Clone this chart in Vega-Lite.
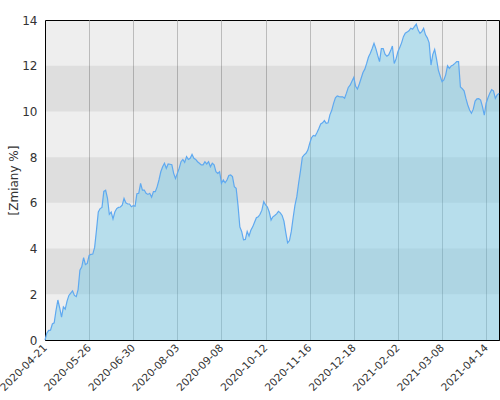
{
  "$schema": "https://vega.github.io/schema/vega-lite/v6.json",
  "width": 454,
  "height": 320,
  "autosize": {"type": "none"},
  "padding": {"left": 45, "top": 20, "right": 1, "bottom": 60},
  "config": {
    "font": "DejaVu Sans",
    "view": {"fill": "#EEEEEE", "stroke": "#000000", "strokeWidth": 1}
  },
  "datasets": {
    "bands": [
      {"lo": 2, "hi": 4},
      {"lo": 6, "hi": 8},
      {"lo": 10, "hi": 12}
    ],
    "fund": [
      {"date": "2020-04-21", "value": 0.0},
      {"date": "2020-04-22", "value": 0.3},
      {"date": "2020-04-23", "value": 0.42},
      {"date": "2020-04-24", "value": 0.43},
      {"date": "2020-04-27", "value": 0.7},
      {"date": "2020-04-28", "value": 0.75},
      {"date": "2020-04-29", "value": 1.3},
      {"date": "2020-04-30", "value": 1.75},
      {"date": "2020-05-04", "value": 1.4},
      {"date": "2020-05-05", "value": 1.0},
      {"date": "2020-05-06", "value": 1.45},
      {"date": "2020-05-07", "value": 1.35},
      {"date": "2020-05-08", "value": 1.7},
      {"date": "2020-05-11", "value": 1.95},
      {"date": "2020-05-12", "value": 2.05},
      {"date": "2020-05-13", "value": 2.15},
      {"date": "2020-05-14", "value": 1.95},
      {"date": "2020-05-15", "value": 1.9},
      {"date": "2020-05-18", "value": 2.2},
      {"date": "2020-05-19", "value": 3.05},
      {"date": "2020-05-20", "value": 3.2},
      {"date": "2020-05-21", "value": 3.6},
      {"date": "2020-05-22", "value": 3.3},
      {"date": "2020-05-25", "value": 3.35},
      {"date": "2020-05-26", "value": 3.7},
      {"date": "2020-05-27", "value": 3.75},
      {"date": "2020-05-28", "value": 3.76},
      {"date": "2020-05-29", "value": 4.05},
      {"date": "2020-06-01", "value": 4.8},
      {"date": "2020-06-02", "value": 5.6},
      {"date": "2020-06-03", "value": 5.75},
      {"date": "2020-06-04", "value": 5.8},
      {"date": "2020-06-05", "value": 6.5},
      {"date": "2020-06-08", "value": 6.55},
      {"date": "2020-06-09", "value": 6.2},
      {"date": "2020-06-10", "value": 5.5},
      {"date": "2020-06-12", "value": 5.6},
      {"date": "2020-06-15", "value": 5.3},
      {"date": "2020-06-16", "value": 5.6},
      {"date": "2020-06-17", "value": 5.75},
      {"date": "2020-06-18", "value": 5.8},
      {"date": "2020-06-19", "value": 5.82},
      {"date": "2020-06-22", "value": 5.9},
      {"date": "2020-06-23", "value": 6.2},
      {"date": "2020-06-24", "value": 6.0},
      {"date": "2020-06-25", "value": 5.95},
      {"date": "2020-06-26", "value": 5.95},
      {"date": "2020-06-29", "value": 5.83},
      {"date": "2020-06-30", "value": 5.88},
      {"date": "2020-07-01", "value": 5.85},
      {"date": "2020-07-02", "value": 6.4},
      {"date": "2020-07-03", "value": 6.42},
      {"date": "2020-07-06", "value": 6.85},
      {"date": "2020-07-07", "value": 6.56},
      {"date": "2020-07-08", "value": 6.56},
      {"date": "2020-07-09", "value": 6.42},
      {"date": "2020-07-10", "value": 6.37},
      {"date": "2020-07-13", "value": 6.42},
      {"date": "2020-07-14", "value": 6.25},
      {"date": "2020-07-15", "value": 6.49},
      {"date": "2020-07-16", "value": 6.49},
      {"date": "2020-07-17", "value": 6.7},
      {"date": "2020-07-20", "value": 7.0},
      {"date": "2020-07-21", "value": 7.36},
      {"date": "2020-07-22", "value": 7.58},
      {"date": "2020-07-23", "value": 7.73},
      {"date": "2020-07-24", "value": 7.51},
      {"date": "2020-07-27", "value": 7.7},
      {"date": "2020-07-28", "value": 7.69},
      {"date": "2020-07-29", "value": 7.67},
      {"date": "2020-07-30", "value": 7.29},
      {"date": "2020-07-31", "value": 7.07},
      {"date": "2020-08-03", "value": 7.29},
      {"date": "2020-08-04", "value": 7.51},
      {"date": "2020-08-05", "value": 7.8},
      {"date": "2020-08-06", "value": 7.9},
      {"date": "2020-08-07", "value": 7.77},
      {"date": "2020-08-10", "value": 8.02},
      {"date": "2020-08-11", "value": 7.9},
      {"date": "2020-08-12", "value": 7.95},
      {"date": "2020-08-13", "value": 8.12},
      {"date": "2020-08-17", "value": 7.95},
      {"date": "2020-08-18", "value": 7.9},
      {"date": "2020-08-19", "value": 7.8},
      {"date": "2020-08-20", "value": 7.73},
      {"date": "2020-08-21", "value": 7.66},
      {"date": "2020-08-24", "value": 7.66},
      {"date": "2020-08-25", "value": 7.8},
      {"date": "2020-08-26", "value": 7.7},
      {"date": "2020-08-27", "value": 7.8},
      {"date": "2020-08-28", "value": 7.58},
      {"date": "2020-08-31", "value": 7.73},
      {"date": "2020-09-02", "value": 7.66},
      {"date": "2020-09-03", "value": 7.36},
      {"date": "2020-09-04", "value": 7.29},
      {"date": "2020-09-07", "value": 7.36},
      {"date": "2020-09-08", "value": 6.85},
      {"date": "2020-09-09", "value": 7.0},
      {"date": "2020-09-10", "value": 6.88},
      {"date": "2020-09-11", "value": 7.0},
      {"date": "2020-09-14", "value": 7.2},
      {"date": "2020-09-15", "value": 7.22},
      {"date": "2020-09-16", "value": 7.15},
      {"date": "2020-09-17", "value": 6.71},
      {"date": "2020-09-18", "value": 6.64},
      {"date": "2020-09-21", "value": 5.9},
      {"date": "2020-09-22", "value": 4.95},
      {"date": "2020-09-23", "value": 4.75},
      {"date": "2020-09-24", "value": 4.38},
      {"date": "2020-09-25", "value": 4.4},
      {"date": "2020-09-28", "value": 4.75},
      {"date": "2020-09-29", "value": 4.55},
      {"date": "2020-09-30", "value": 4.8},
      {"date": "2020-10-01", "value": 4.95},
      {"date": "2020-10-02", "value": 5.15},
      {"date": "2020-10-05", "value": 5.35},
      {"date": "2020-10-06", "value": 5.39},
      {"date": "2020-10-07", "value": 5.5},
      {"date": "2020-10-08", "value": 5.68},
      {"date": "2020-10-09", "value": 6.05},
      {"date": "2020-10-12", "value": 5.91},
      {"date": "2020-10-13", "value": 5.82},
      {"date": "2020-10-14", "value": 5.6},
      {"date": "2020-10-15", "value": 5.25},
      {"date": "2020-10-16", "value": 5.39},
      {"date": "2020-10-19", "value": 5.45},
      {"date": "2020-10-20", "value": 5.52},
      {"date": "2020-10-21", "value": 5.63},
      {"date": "2020-10-22", "value": 5.56},
      {"date": "2020-10-23", "value": 5.45},
      {"date": "2020-10-26", "value": 5.2},
      {"date": "2020-10-27", "value": 4.7},
      {"date": "2020-10-28", "value": 4.25},
      {"date": "2020-10-29", "value": 4.35},
      {"date": "2020-10-30", "value": 4.75},
      {"date": "2020-11-02", "value": 5.35},
      {"date": "2020-11-03", "value": 5.9},
      {"date": "2020-11-04", "value": 6.27},
      {"date": "2020-11-05", "value": 6.87},
      {"date": "2020-11-06", "value": 7.4},
      {"date": "2020-11-09", "value": 8.0},
      {"date": "2020-11-10", "value": 8.1},
      {"date": "2020-11-12", "value": 8.17},
      {"date": "2020-11-13", "value": 8.31},
      {"date": "2020-11-16", "value": 8.6},
      {"date": "2020-11-17", "value": 8.85},
      {"date": "2020-11-18", "value": 8.95},
      {"date": "2020-11-19", "value": 8.92},
      {"date": "2020-11-20", "value": 9.08},
      {"date": "2020-11-23", "value": 9.25},
      {"date": "2020-11-24", "value": 9.45},
      {"date": "2020-11-25", "value": 9.5},
      {"date": "2020-11-26", "value": 9.6},
      {"date": "2020-11-27", "value": 9.48},
      {"date": "2020-11-30", "value": 9.5},
      {"date": "2020-12-01", "value": 9.85},
      {"date": "2020-12-02", "value": 10.05},
      {"date": "2020-12-03", "value": 10.35},
      {"date": "2020-12-04", "value": 10.6},
      {"date": "2020-12-07", "value": 10.68},
      {"date": "2020-12-08", "value": 10.65},
      {"date": "2020-12-09", "value": 10.64},
      {"date": "2020-12-10", "value": 10.64},
      {"date": "2020-12-11", "value": 10.58},
      {"date": "2020-12-14", "value": 10.8},
      {"date": "2020-12-15", "value": 11.05},
      {"date": "2020-12-16", "value": 11.15},
      {"date": "2020-12-17", "value": 11.32},
      {"date": "2020-12-18", "value": 11.49},
      {"date": "2020-12-21", "value": 11.1},
      {"date": "2020-12-22", "value": 10.98},
      {"date": "2020-12-23", "value": 11.2},
      {"date": "2020-12-28", "value": 11.45},
      {"date": "2020-12-29", "value": 11.7},
      {"date": "2021-01-04", "value": 11.85},
      {"date": "2021-01-05", "value": 12.1},
      {"date": "2021-01-07", "value": 12.38},
      {"date": "2021-01-08", "value": 12.55},
      {"date": "2021-01-11", "value": 12.75},
      {"date": "2021-01-12", "value": 12.98},
      {"date": "2021-01-14", "value": 12.75},
      {"date": "2021-01-15", "value": 12.45},
      {"date": "2021-01-18", "value": 12.18},
      {"date": "2021-01-19", "value": 12.75},
      {"date": "2021-01-20", "value": 12.75},
      {"date": "2021-01-21", "value": 12.5},
      {"date": "2021-01-22", "value": 12.42},
      {"date": "2021-01-25", "value": 12.48},
      {"date": "2021-01-26", "value": 12.65},
      {"date": "2021-01-28", "value": 12.86},
      {"date": "2021-01-29", "value": 12.1},
      {"date": "2021-02-01", "value": 12.3},
      {"date": "2021-02-02", "value": 12.61},
      {"date": "2021-02-03", "value": 12.8},
      {"date": "2021-02-04", "value": 13.0},
      {"date": "2021-02-05", "value": 13.27},
      {"date": "2021-02-08", "value": 13.42},
      {"date": "2021-02-09", "value": 13.47},
      {"date": "2021-02-10", "value": 13.53},
      {"date": "2021-02-11", "value": 13.64},
      {"date": "2021-02-12", "value": 13.6},
      {"date": "2021-02-15", "value": 13.71},
      {"date": "2021-02-16", "value": 13.82},
      {"date": "2021-02-17", "value": 13.56},
      {"date": "2021-02-18", "value": 13.42},
      {"date": "2021-02-19", "value": 13.49},
      {"date": "2021-02-22", "value": 13.64},
      {"date": "2021-02-23", "value": 13.35},
      {"date": "2021-02-24", "value": 13.22},
      {"date": "2021-02-25", "value": 13.0},
      {"date": "2021-02-26", "value": 12.03},
      {"date": "2021-03-01", "value": 12.5},
      {"date": "2021-03-02", "value": 12.71},
      {"date": "2021-03-03", "value": 12.3},
      {"date": "2021-03-04", "value": 11.81},
      {"date": "2021-03-05", "value": 11.55},
      {"date": "2021-03-08", "value": 11.3},
      {"date": "2021-03-09", "value": 11.38},
      {"date": "2021-03-10", "value": 11.6},
      {"date": "2021-03-11", "value": 12.0},
      {"date": "2021-03-12", "value": 11.88},
      {"date": "2021-03-15", "value": 11.99},
      {"date": "2021-03-16", "value": 12.03},
      {"date": "2021-03-17", "value": 12.1},
      {"date": "2021-03-18", "value": 12.18},
      {"date": "2021-03-19", "value": 12.18},
      {"date": "2021-03-22", "value": 11.07},
      {"date": "2021-03-23", "value": 11.0},
      {"date": "2021-03-24", "value": 10.9},
      {"date": "2021-03-25", "value": 10.57},
      {"date": "2021-03-26", "value": 10.28},
      {"date": "2021-03-29", "value": 10.06},
      {"date": "2021-03-30", "value": 9.92},
      {"date": "2021-04-01", "value": 10.1},
      {"date": "2021-04-06", "value": 10.45},
      {"date": "2021-04-07", "value": 10.55},
      {"date": "2021-04-08", "value": 10.56},
      {"date": "2021-04-09", "value": 10.5},
      {"date": "2021-04-12", "value": 10.21},
      {"date": "2021-04-13", "value": 9.84},
      {"date": "2021-04-14", "value": 10.36},
      {"date": "2021-04-15", "value": 10.6},
      {"date": "2021-04-16", "value": 10.8},
      {"date": "2021-04-19", "value": 10.95},
      {"date": "2021-04-20", "value": 10.9},
      {"date": "2021-04-21", "value": 10.57},
      {"date": "2021-04-22", "value": 10.72},
      {"date": "2021-04-23", "value": 10.79}
    ]
  },
  "layer": [
    {
      "data": {"name": "bands"},
      "mark": {"type": "rect", "color": "#000000", "opacity": 0.065},
      "encoding": {
        "y": {"field": "lo", "type": "quantitative", "scale": {"domain": [0, 14], "nice": false}},
        "y2": {"field": "hi"}
      }
    },
    {
      "data": {"name": "fund"},
      "mark": {"type": "area", "color": "#6CC8E9", "opacity": 0.42},
      "encoding": {
        "x": {
          "field": "date",
          "type": "ordinal",
          "scale": {"type": "point", "padding": 0},
          "axis": {
            "values": ["2020-04-21", "2020-05-26", "2020-06-30", "2020-08-03", "2020-09-08", "2020-10-12", "2020-11-16", "2020-12-18", "2021-02-02", "2021-03-08", "2021-04-14"],
            "title": null,
            "labelAngle": -45,
            "labelAlign": "right",
            "labelBaseline": "middle",
            "labelFontSize": 10.5,
            "labelColor": "#333333",
            "ticks": false,
            "labelPadding": 6,
            "labelDx": 3,
            "grid": true,
            "gridColor": "#BBBBBB",
            "gridOpacity": 1,
            "domainColor": "#000000"
          }
        },
        "y": {
          "field": "value",
          "type": "quantitative",
          "scale": {"domain": [0, 14], "nice": false},
          "axis": {
            "values": [0, 2, 4, 6, 8, 10, 12, 14],
            "title": "[Zmiany %]",
            "titleFontWeight": "normal",
            "titleFontSize": 12,
            "titleColor": "#333333",
            "titlePadding": 1,
            "labelFontSize": 12,
            "labelColor": "#333333",
            "labelPadding": 8,
            "ticks": false,
            "grid": false,
            "domainColor": "#000000"
          }
        }
      }
    },
    {
      "data": {"name": "fund"},
      "mark": {"type": "line", "color": "#5FA9F0", "strokeWidth": 1.2},
      "encoding": {
        "x": {"field": "date", "type": "ordinal", "scale": {"type": "point", "padding": 0}},
        "y": {"field": "value", "type": "quantitative"}
      }
    }
  ]
}
